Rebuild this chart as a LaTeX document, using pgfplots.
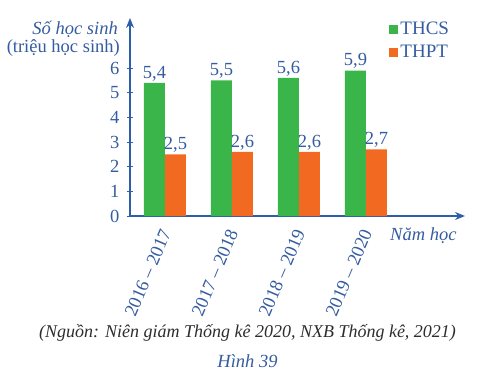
\documentclass[border=0pt]{standalone}
\usepackage{fontspec}
\setmainfont{Liberation Serif}
\usepackage{pgfplots}
\pgfplotsset{compat=1.18}
\usetikzlibrary{arrows.meta}
\definecolor{axblue}{RGB}{44,94,170}
\definecolor{txtblue}{RGB}{52,92,160}
\definecolor{bargreen}{RGB}{58,181,74}
\definecolor{barorange}{RGB}{242,106,33}
\definecolor{capgray}{RGB}{45,45,45}
\pgfplotsset{sqlegend/.style={legend image code/.code={\fill[##1] (0pt,-4.5pt) rectangle (9pt,4.5pt);}}}
\newcommand{\fs}{\fontsize{18.5}{21}\selectfont}
\begin{document}
\begin{tikzpicture}[font=\fs]
\useasboundingbox (-130pt,-159pt) rectangle (347pt,216pt);
\begin{axis}[
  at={(0pt,0pt)}, anchor=south west,
  scale only axis, width=335pt, height=198pt,
  xmin=-0.522, xmax=4.478, ymin=0, ymax=8.03,
  axis lines=left,
  axis line style={draw=axblue, line width=1.5pt, -{Stealth[length=10pt,width=8pt]}},
  ybar=0pt, bar width=21pt,
  clip=false,
  xtick={0,1,2,3},
  xticklabels={2016 – 2017, 2017 – 2018, 2018 – 2019, 2019 – 2020},
  ytick={0,1,2,3,4,5,6},
  tick align=center, major tick length=6pt,
  y tick style={draw=axblue, line width=1pt},
  x tick style={draw=none},
  /pgf/number format/assume math mode=true,
  every tick label/.append style={font=\fs, text=txtblue},
  yticklabel style={xshift=-4pt},
  xticklabel style={xshift=1pt, yshift=-11pt, rotate=67, anchor=east, inner sep=0pt},
  nodes near coords={\pgfmathprintnumber[fixed,fixed zerofill,precision=1,use comma,assume math mode=true]{\pgfplotspointmeta}},
  every node near coord/.append style={font=\fs, text=txtblue, inner sep=1.5pt},
  legend style={at={(0.765,1.0)}, anchor=north west, draw=none, fill=none,
    text=txtblue, font=\fontsize{19}{21}\selectfont, row sep=5pt, legend cell align=left},
]
\addplot[fill=bargreen, draw=none, sqlegend] coordinates {(0,5.4) (1,5.5) (2,5.6) (3,5.9)};
\addplot[fill=barorange, draw=none, sqlegend] coordinates {(0,2.5) (1,2.6) (2,2.6) (3,2.7)};
\legend{THCS, THPT}
\end{axis}
\node[anchor=base east, text=txtblue, font=\fs\itshape, inner sep=0pt] at (-12pt,181pt) {Số học sinh};
\node[anchor=base east, text=txtblue, inner sep=0pt] at (-10pt,163pt) {(triệu học sinh)};
\node[anchor=base west, text=txtblue, font=\fs\itshape, inner sep=0pt] at (260pt,-24pt) {Năm học};
\node[anchor=base, text=capgray, font=\fontsize{18}{21}\selectfont\itshape, inner sep=0pt] at (117.5pt,-121pt) {(Nguồn: Niên giám Thống kê 2020, NXB Thống kê, 2021)};
\node[anchor=base, text=txtblue, font=\fs\itshape, inner sep=0pt] at (117.5pt,-151pt) {Hình 39};
\end{tikzpicture}
\end{document}
